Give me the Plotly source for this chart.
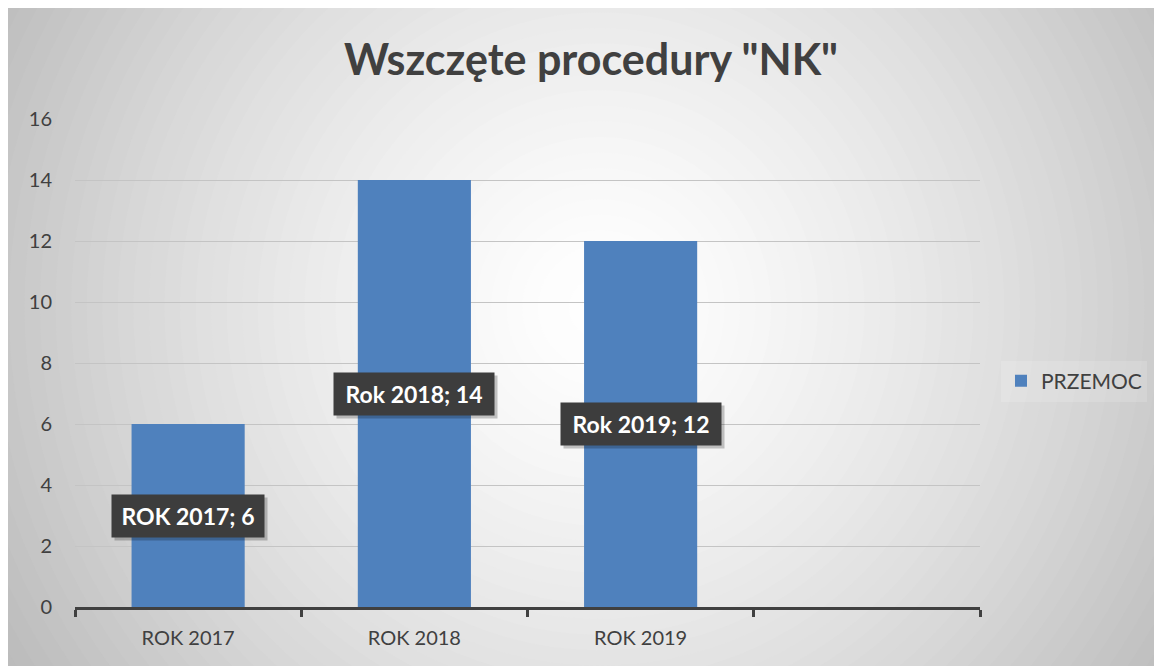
import plotly.graph_objects as go

categories = ["ROK 2017", "ROK 2018", "ROK 2019"]
values = [6, 14, 12]
label_names = ["ROK 2017", "Rok 2018", "Rok 2019"]
series_name = "PRZEMOC"
title_text = 'Wszczęte procedury "NK"'
y_ticks = [0, 2, 4, 6, 8, 10, 12, 14, 16]

W, H = 1162, 666
ML, MT = 67, 111
PW, PH = 905, 488
MR = W - ML - PW
MB = H - MT - PH

FONT = "Lato"
DARK = "#404040"

x_all = categories + [" "]
y_all = values + [None]

fig = go.Figure()
fig.add_trace(go.Bar(
    x=x_all, y=y_all, name=series_name,
    marker=dict(color="#4F81BD", line=dict(width=0)),
    showlegend=True,
))

# data labels (Excel style dark boxes) at bar centre
box_w = [138, 146, 146]
for cat, name, v, bw in zip(categories, label_names, values, box_w):
    txt = f"<b>{name}; {v}</b>"
    fig.add_annotation(x=cat, y=v / 2, text=" ", showarrow=False,
                       width=bw, height=28,
                       bgcolor="rgba(0,0,0,0.22)", borderpad=7,
                       xshift=3, yshift=-3)
    fig.add_annotation(x=cat, y=v / 2, text=txt, showarrow=False,
                       width=bw, height=28,
                       font=dict(family=FONT, size=23, color="white"),
                       bgcolor="#3d3d3d", borderpad=7)

# radial gradient background built from concentric circles
def px2paper_x(px):
    return (px - ML) / PW

def px2paper_y(py):
    return (H - MB - py) / PH

shapes = []
cx, cy = 592, 300
rmax = 700.0
steps = 45
for i in range(steps):
    r = rmax * (1 - i / steps)
    frac = r / 664.0
    g = 255 - 63 * (frac ** 1.4)
    g = int(max(188, min(255, round(g))))
    col = f"rgb({g},{g},{g})"
    shapes.append(dict(type="circle", xref="paper", yref="paper", layer="below",
                       x0=px2paper_x(cx - r), x1=px2paper_x(cx + r),
                       y0=px2paper_y(cy + r), y1=px2paper_y(cy - r),
                       fillcolor=col, line=dict(width=0)))

fig.update_layout(
    width=W, height=H,
    margin=dict(l=ML, r=MR, t=MT, b=MB),
    paper_bgcolor="rgb(192,192,192)",
    plot_bgcolor="rgba(0,0,0,0)",
    shapes=shapes,
    bargap=0.5,
    title=dict(text=f"<b>{title_text}</b>", x=0.5 + 2 / W, xanchor="center",
               y=1 - 52 / H, yanchor="middle", yref="container",
               font=dict(family=FONT, size=43, color=DARK)),
    font=dict(family=FONT, color=DARK),
    legend=dict(x=px2paper_x(993), y=px2paper_y(373), xanchor="left", yanchor="middle",
                bgcolor="rgba(255,255,255,0.15)", font=dict(family=FONT, size=21, color=DARK)),
    xaxis=dict(type="category", categoryorder="array", categoryarray=x_all,
               range=[-0.5, 3.5], showline=True, linecolor=DARK, linewidth=3,
               ticks="outside", tickson="boundaries", ticklen=7, tickwidth=3, tickcolor=DARK,
               showgrid=False, tickfont=dict(family=FONT, size=20, color=DARK),
               ticklabelstandoff=11),
    yaxis=dict(range=[0, 16], tickvals=y_ticks, showgrid=True, gridcolor="#c4c4c4",
               gridwidth=1, zeroline=False, showline=False, ticks="",
               tickfont=dict(family=FONT, size=20, color=DARK), ticklabelstandoff=22),
)

fig.write_html("out.html")
